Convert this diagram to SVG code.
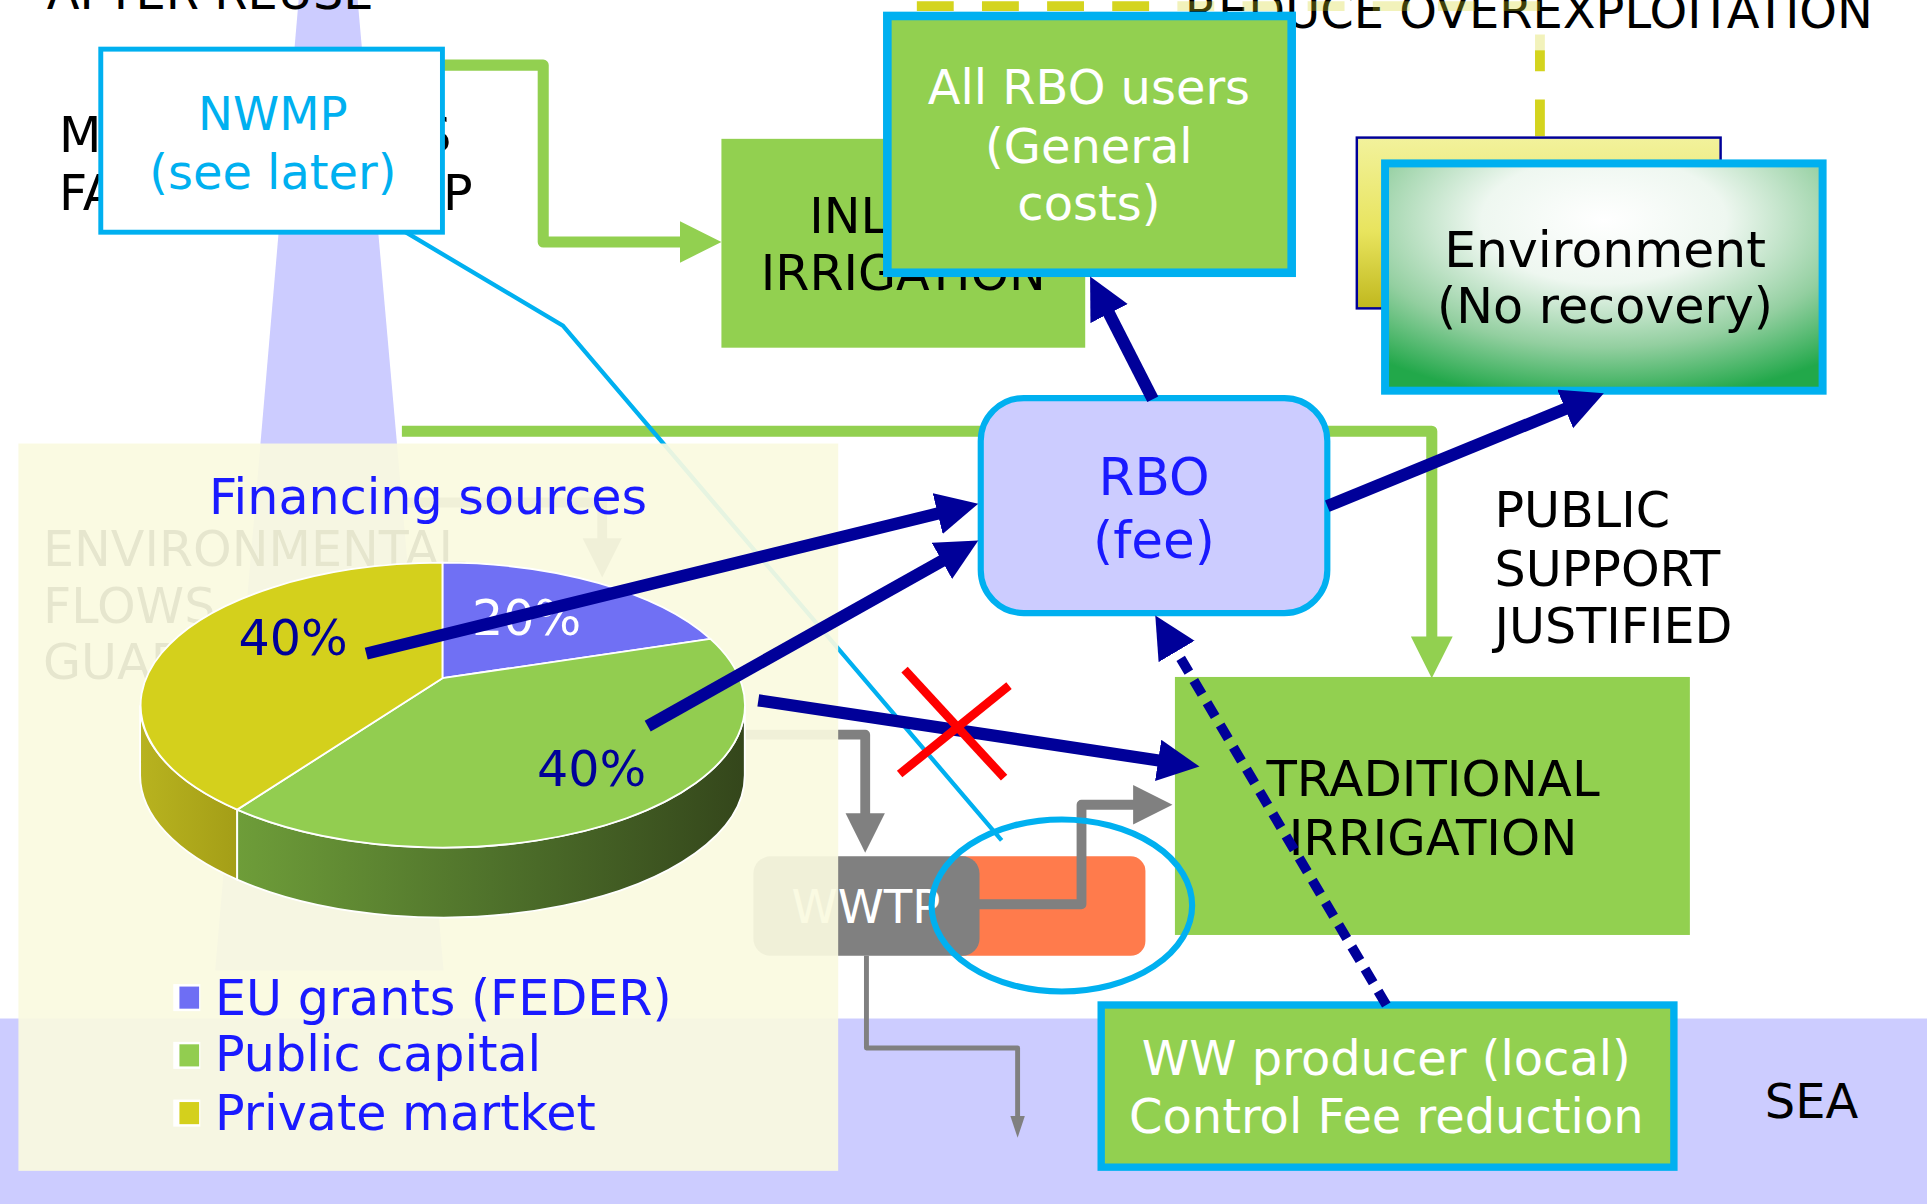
<svg xmlns="http://www.w3.org/2000/svg" width="1927" height="1204" viewBox="0 0 1927 1204">
<defs>
<style>
text{font-family:"DejaVu Sans","Liberation Sans",Verdana,sans-serif;font-size:40px}
.c{text-anchor:middle}
.k{fill:#000000}
.w{fill:#FFFFFF}
.b{fill:#1A1AFF}
.cy{fill:#00B0F0}
.nvt{fill:#000099}
.navy{fill:none;stroke:#000099;stroke-width:10;marker-end:url(#mn)}
.green{fill:none;stroke:#92D050;stroke-width:9;stroke-linejoin:round;marker-end:url(#mg)}
.gray{fill:none;stroke:#808080;stroke-width:8;stroke-linejoin:round;marker-end:url(#my)}
.ydash{fill:none;stroke:#D4D41E;stroke-width:8;stroke-dasharray:30 23}
.gbox{fill:#92D050}
.bord{stroke:#00B0F0}
</style>
<marker id="mn" markerUnits="userSpaceOnUse" markerWidth="36" markerHeight="36" refX="6" refY="17" orient="auto"><path d="M0,0 L34,17 L0,34 z" fill="#000099"/></marker>
<marker id="mg" markerUnits="userSpaceOnUse" markerWidth="36" markerHeight="36" refX="6" refY="17" orient="auto"><path d="M0,0 L34,17 L0,34 z" fill="#92D050"/></marker>
<marker id="my" markerUnits="userSpaceOnUse" markerWidth="36" markerHeight="36" refX="6" refY="16" orient="auto"><path d="M0,0 L32,16 L0,32 z" fill="#808080"/></marker>
<marker id="ms" markerUnits="userSpaceOnUse" markerWidth="20" markerHeight="14" refX="4" refY="6" orient="auto"><path d="M0,0 L18,6 L0,12 z" fill="#808080"/></marker>
<radialGradient id="envg" cx="0.5" cy="0.25" r="0.8">
<stop offset="0" stop-color="#FFFFFF"/>
<stop offset="0.35" stop-color="#EEF7F0"/>
<stop offset="0.7" stop-color="#93CFA0"/>
<stop offset="1" stop-color="#22A84A"/>
</radialGradient>
<linearGradient id="yelg" x1="0" y1="0" x2="0" y2="1">
<stop offset="0" stop-color="#F2F29C"/>
<stop offset="0.55" stop-color="#E8E45E"/>
<stop offset="1" stop-color="#C0B81E"/>
</linearGradient>
<linearGradient id="gside" x1="0" y1="0" x2="1" y2="0">
<stop offset="0" stop-color="#6E9D39"/>
<stop offset="0.5" stop-color="#4F722B"/>
<stop offset="1" stop-color="#34461B"/>
</linearGradient>
<linearGradient id="yside" x1="0" y1="0" x2="1" y2="0">
<stop offset="0" stop-color="#B8B31F"/>
<stop offset="1" stop-color="#A49E17"/>
</linearGradient>
</defs>
<rect x="0" y="0" width="1927" height="1204" fill="#FFFFFF"/>
<g transform="scale(1.2290,1.2286)">
<g id="background">
<rect x="0" y="829" width="1568" height="152" fill="#CCCCFF"/>
<polygon points="243,0 291,0 361,790 175,790" fill="#CCCCFF"/>
<text x="38" y="7" class="k" style="font-size:39px">AFTER REUSE</text>
<text x="48" y="124" class="k">M</text>
<text x="342" y="124" class="k">S</text>
<text x="48" y="171" class="k">FA</text>
<text x="336" y="171" class="k">TP</text>
<text x="964" y="23" class="k" style="font-size:39px">REDUCE OVEREXPLOITATION</text>
<text x="35" y="461" class="k">ENVIRONMENTAL</text>
<text x="35" y="507" class="k">FLOWS</text>
<text x="35" y="553" class="k">GUAR</text>
<text x="1436" y="910" class="k" style="font-size:39px">SEA</text>
<text x="1216" y="429" class="k">PUBLIC</text>
<text x="1216" y="477" class="k">SUPPORT</text>
<text x="1216" y="523" class="k">JUSTIFIED</text>
</g>
<g id="connectors-under">
<path class="ydash" d="M746,5 H940"/>
<path class="ydash" d="M940,5 H1253 V41" style="stroke-dashoffset:35;opacity:0.3"/>
<path class="ydash" d="M1253,41 V112" style="stroke-dashoffset:13"/>
<path class="green" d="M360,53 H442 V197 H559"/>
<path class="green" d="M327,351 H1165 V524"/>
<polyline points="330,189 458,265 815,684" fill="none" stroke="#00B0F0" stroke-width="3.5"/>
<path class="gray" d="M330,409 H490 V444"/>
<path class="gray" d="M560,598 H704 V668"/>
</g>
<g id="wwtp">
<rect x="770" y="697" width="162" height="81" rx="12" fill="#FF7B4C"/>
<rect x="613" y="697" width="184" height="81" rx="14" fill="#808080"/>
<text x="644" y="751" class="w" style="font-size:38px">WWTP</text>
</g>
<g id="wwtp-connectors">
<path class="gray" d="M796,736 H880 V655 H928"/>
<path d="M705,778 V853 H828 V912" fill="none" stroke="#808080" stroke-width="4" stroke-linejoin="round" marker-end="url(#ms)"/>
</g>
<g id="financing">
<rect x="15" y="361" width="667" height="592" fill="#FAFAE0" fill-opacity="0.92"/>
<text x="170" y="418" class="b">Financing sources</text>
<g id="pie" stroke="#FFFFFF" stroke-width="1.5">
<path d="M114,574 A246,116 0 0 0 193,659 L193,716 A246,116 0 0 1 114,631 Z" fill="url(#yside)"/>
<path d="M193,659 A246,116 0 0 0 606,574 L606,631 A246,116 0 0 1 193,716 Z" fill="url(#gside)"/>
<path d="M360,552 L360,458 A246,116 0 0 1 578,520 Z" fill="#7070F4"/>
<path d="M360,552 L578,520 A246,116 0 0 1 193,659 Z" fill="#92CD50"/>
<path d="M360,552 L193,659 A246,116 0 0 1 360,458 Z" fill="#D4D01C"/>
</g>
<text x="194" y="533" class="nvt">40%</text>
<text x="384" y="517" class="w">20%</text>
<text x="437" y="640" class="nvt">40%</text>
<g id="legend">
<rect x="141" y="801" width="22" height="22" fill="#FFFFFF"/>
<rect x="146" y="803" width="16" height="18" fill="#6E6EF4"/>
<rect x="141" y="848" width="22" height="22" fill="#FFFFFF"/>
<rect x="146" y="850" width="16" height="18" fill="#92CD50"/>
<rect x="141" y="895" width="22" height="22" fill="#FFFFFF"/>
<rect x="146" y="897" width="16" height="18" fill="#D4D01C"/>
<text x="175" y="826" class="b">EU grants (FEDER)</text>
<text x="175" y="872" class="b">Public capital</text>
<text x="175" y="920" class="b">Private martket</text>
</g>
</g>
<g id="nwmp">
<rect x="82" y="40" width="278" height="149" fill="#FFFFFF" stroke="#00B0F0" stroke-width="4"/>
<text x="222" y="106" class="c cy" style="font-size:38px">NWMP</text>
<text x="222" y="154" class="c cy" style="font-size:39px">(see later)</text>
</g>
<g id="inland">
<rect x="587" y="113" width="296" height="170" class="gbox"/>
<text x="735" y="190" class="c k">INLAND</text>
<text x="735" y="236" class="c k">IRRIGATION</text>
</g>
<g id="allrbo">
<rect x="722" y="13" width="329" height="209" class="gbox bord" stroke-width="7"/>
<text x="886" y="85" class="c w" style="font-size:39px">All RBO users</text>
<text x="886" y="133" class="c w" style="font-size:39px">(General</text>
<text x="886" y="179" class="c w" style="font-size:39px">costs)</text>
</g>
<g id="yellowbox">
<rect x="1104" y="112" width="296" height="139" fill="url(#yelg)" stroke="#000099" stroke-width="2"/>
</g>
<g id="environment">
<rect x="1127" y="133" width="356" height="185" fill="url(#envg)" stroke="#00B0F0" stroke-width="6.5"/>
<text x="1306" y="217" class="c k" style="font-size:41px">Environment</text>
<text x="1306" y="263" class="c k">(No recovery)</text>
</g>
<g id="rbo">
<rect x="798" y="324" width="282" height="175" rx="35" ry="35" fill="#CCCCFF" stroke="#00B0F0" stroke-width="5"/>
<text x="939" y="403" class="c b" style="font-size:42px">RBO</text>
<text x="939" y="454" class="c b" style="font-size:42px">(fee)</text>
</g>
<g id="traditional">
<rect x="956" y="551" width="419" height="210" class="gbox"/>
<text x="1166" y="648" class="c k" style="font-size:40.5px">TRADITIONAL</text>
<text x="1166" y="696" class="c k" style="font-size:40.5px">IRRIGATION</text>
</g>
<g id="wwproducer">
<rect x="896" y="818" width="466" height="132" class="gbox bord" stroke-width="6"/>
<text x="1128" y="875" class="c w" style="font-size:39px">WW producer (local)</text>
<text x="1128" y="922" class="c w" style="font-size:39px">Control Fee reduction</text>
</g>
<g id="highlight">
<ellipse cx="864" cy="737" rx="106" ry="70" fill="none" stroke="#00B0F0" stroke-width="5"/>
</g>
<g id="connectors">
<path class="navy" d="M298,532 L768.8,416.6"/>
<path class="navy" d="M527,591 L771.6,453.6"/>
<path class="navy" d="M617,570 L948.3,619.8"/>
<path class="navy" d="M938,325 L899.7,249.9"/>
<path class="navy" d="M1080,412 L1279.1,330.6"/>
<path class="navy" d="M1128,818 L954.3,525.1" style="stroke-width:8;stroke-dasharray:13 8"/>
</g>
<g id="cross" stroke="#FF0000" stroke-width="7" fill="none">
<line x1="736" y1="545" x2="817" y2="633"/>
<line x1="821" y1="558" x2="732" y2="630"/>
</g>
</g>
</svg>
